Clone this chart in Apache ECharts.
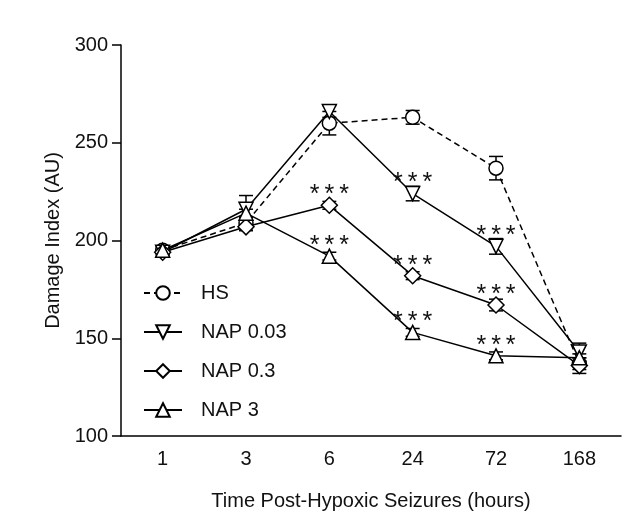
<!DOCTYPE html>
<html>
<head>
<meta charset="utf-8">
<script src="https://cdn.jsdelivr.net/npm/echarts@6/dist/echarts.min.js"></script>
<style>
html,body{margin:0;padding:0;background:#fff;}
#chart{width:638px;height:531px;}
</style>
</head>
<body>
<div id="chart"></div>
<script>
var categories = ['1', '3', '6', '24', '72', '168'];
var yTicks = [100, 150, 200, 250, 300];

var hsMean = [195, 209, 260, 263, 237, 137];
var hsSem = [2, 3, 6, 3.5, 6, 3];
var hsSig = [0, 0, 0, 0, 0, 0];

var nap003Mean = [194, 216, 266, 224, 197, 143];
var nap003Sem = [2, 7, 3, 3.7, 4, 4.5];
var nap003Sig = [0, 0, 0, 1, 1, 0];

var nap03Mean = [194, 207, 218, 182, 167, 136];
var nap03Sem = [2, 2, 2, 2, 3, 4];
var nap03Sig = [0, 0, 1, 1, 1, 0];

var nap3Mean = [195, 214, 192, 153, 141, 140];
var nap3Sem = [2, 2, 2, 2, 2, 2];
var nap3Sig = [0, 0, 1, 1, 1, 0];

var FONT = 'Liberation Sans, Arial, sans-serif';
var INK = '#111';

var groups = [
  {name: 'HS', mean: hsMean, sem: hsSem, sig: hsSig, symbol: 'circle', rotate: 0, dashed: true},
  {name: 'NAP 0.03', mean: nap003Mean, sem: nap003Sem, sig: nap003Sig, symbol: 'triangle', rotate: 180, dashed: false},
  {name: 'NAP 0.3', mean: nap03Mean, sem: nap03Sem, sig: nap03Sig, symbol: 'diamond', rotate: 0, dashed: false},
  {name: 'NAP 3', mean: nap3Mean, sem: nap3Sem, sig: nap3Sig, symbol: 'triangle', rotate: 0, dashed: false}
];

var series = [];
groups.forEach(function (g) {
  series.push({
    name: g.name,
    type: 'line',
    z: 3,
    symbol: g.symbol,
    symbolRotate: g.rotate,
    symbolSize: g.symbol === 'diamond' ? 16 : 14,
    showAllSymbol: true,
    lineStyle: {color: '#000', width: 1.5, type: g.dashed ? [6, 4] : 'solid'},
    itemStyle: {color: '#fff', borderColor: '#000', borderWidth: 1.5},
    label: {
      position: 'inside',
      offset: [0, -10],
      formatter: '*\u2009*\u2009*',
      fontFamily: FONT,
      fontSize: 25,
      color: INK
    },
    emphasis: {disabled: true},
    data: g.mean.map(function (v, i) {
      return {value: v, label: {show: !!g.sig[i]}};
    })
  });
  series.push({
    name: g.name + ' err',
    type: 'custom',
    z: 1,
    silent: true,
    data: g.mean.map(function (v, i) { return [i, v - g.sem[i], v + g.sem[i]]; }),
    renderItem: function (params, api) {
      var lo = api.coord([api.value(0), api.value(1)]);
      var hi = api.coord([api.value(0), api.value(2)]);
      var hw = 7;
      var st = {stroke: '#000', lineWidth: 1.5};
      return {
        type: 'group',
        children: [
          {type: 'line', shape: {x1: lo[0], y1: lo[1], x2: hi[0], y2: hi[1]}, style: st},
          {type: 'line', shape: {x1: lo[0] - hw, y1: lo[1], x2: lo[0] + hw, y2: lo[1]}, style: st},
          {type: 'line', shape: {x1: hi[0] - hw, y1: hi[1], x2: hi[0] + hw, y2: hi[1]}, style: st}
        ]
      };
    }
  });
});

var chart = echarts.init(document.getElementById('chart'), null, {renderer: 'canvas'});
chart.setOption({
  animation: false,
  backgroundColor: '#fff',
  grid: {left: 121, right: 17, top: 45, bottom: 95, containLabel: false},
  legend: {
    data: groups.map(function (g) { return g.name; }),
    orient: 'vertical',
    left: 138,
    top: 278,
    itemWidth: 38,
    itemHeight: 17,
    itemGap: 19,
    textStyle: {fontFamily: FONT, fontSize: 20, color: INK, padding: [0, 0, 0, 14]},
    selectedMode: false
  },
  xAxis: {
    type: 'category',
    data: categories,
    boundaryGap: true,
    name: 'Time Post-Hypoxic Seizures (hours)',
    nameLocation: 'middle',
    nameGap: 55,
    nameTextStyle: {fontFamily: FONT, fontSize: 20, color: INK},
    axisLine: {lineStyle: {color: '#000', width: 1.5}},
    axisTick: {alignWithLabel: true, length: 9, lineStyle: {color: '#000', width: 1.5}},
    axisLabel: {fontFamily: FONT, fontSize: 20, color: INK, margin: 13},
    splitLine: {show: false}
  },
  yAxis: {
    type: 'value',
    min: yTicks[0],
    max: yTicks[yTicks.length - 1],
    interval: 50,
    name: 'Damage Index (AU)',
    nameLocation: 'middle',
    nameGap: 57,
    nameTextStyle: {fontFamily: FONT, fontSize: 20, color: INK},
    axisLine: {show: true, lineStyle: {color: '#000', width: 1.5}},
    axisTick: {show: true, length: 9, lineStyle: {color: '#000', width: 1.5}},
    axisLabel: {fontFamily: FONT, fontSize: 20, color: INK, margin: 13},
    splitLine: {show: false}
  },
  series: series
});
</script>
</body>
</html>
